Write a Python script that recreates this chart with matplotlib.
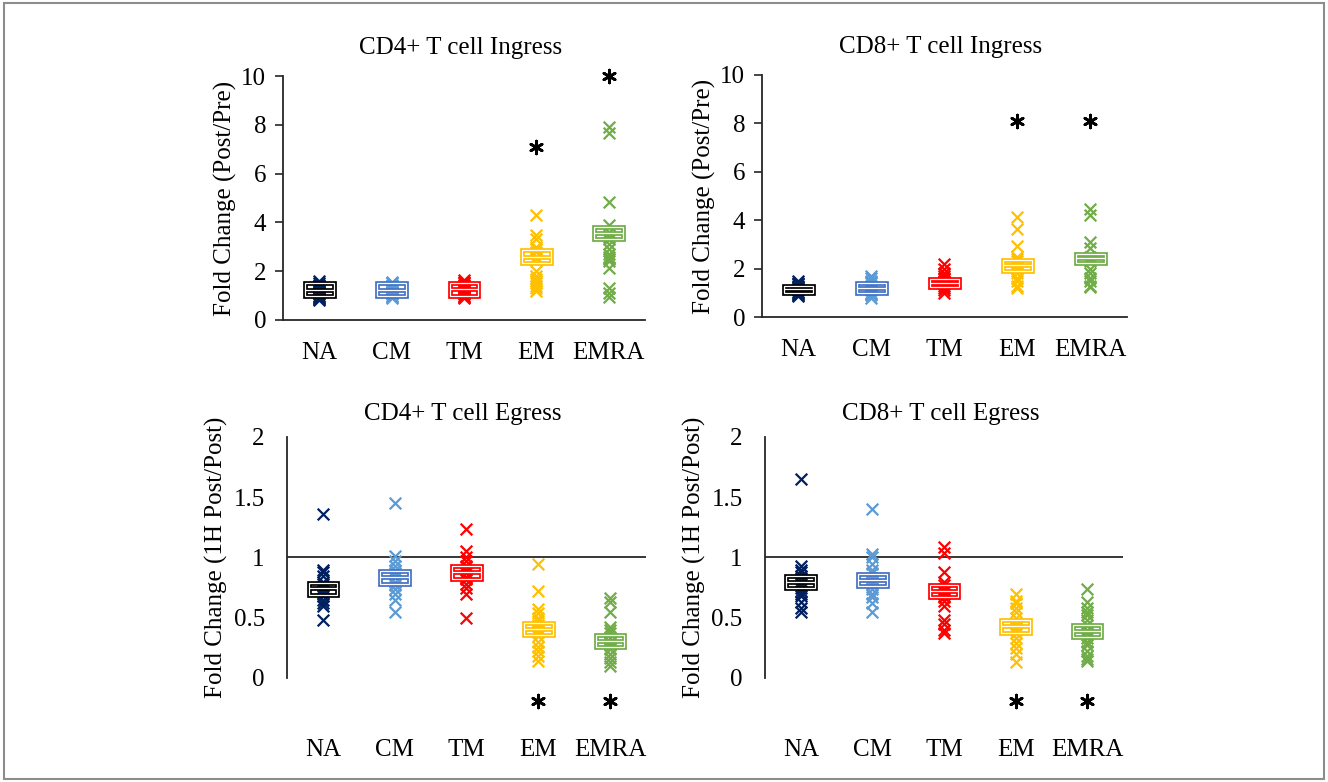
import matplotlib
matplotlib.use("Agg")
import matplotlib.pyplot as plt
from matplotlib.patches import Rectangle

plt.rcParams['font.family'] = ['Liberation Serif', 'DejaVu Serif']

groups = ['NA', 'CM', 'TM', 'EM', 'EMRA']
marker_colors = ['#002060', '#5B9BD5', '#FF0000', '#FFC000', '#70AD47']
box_colors = ['#000000', '#4472C4', '#FF0000', '#FFC000', '#70AD47']

# CD4+ ingress
cd4_in_pts = [
    [1.6, 1.5, 1.45, 1.4, 1.35, 1.3, 1.25, 1.2, 1.15, 1.1, 1.05, 1.0, 0.95, 0.9, 0.85, 0.8],
    [1.55, 1.5, 1.45, 1.4, 1.35, 1.3, 1.25, 1.2, 1.15, 1.1, 1.05, 1.0, 0.95, 0.9],
    [1.65, 1.55, 1.5, 1.45, 1.4, 1.35, 1.3, 1.25, 1.2, 1.15, 1.1, 1.05, 1.0, 0.95, 0.9],
    [4.3, 3.5, 3.3, 3.0, 2.9, 2.8, 2.6, 2.5, 2.0, 1.8, 1.7, 1.6, 1.5, 1.4, 1.3, 1.2],
    [7.9, 7.65, 4.85, 3.9, 3.6, 3.4, 3.3, 3.1, 2.9, 2.7, 2.6, 2.5, 2.4, 2.15, 1.3, 1.1, 0.95],
]
cd4_in_box = [(1.0, 1.23, 1.5), (1.0, 1.22, 1.5), (1.0, 1.25, 1.5), (2.34, 2.6, 2.87), (3.3, 3.55, 3.8)]
cd4_in_star = [None, None, None, 7.1, 10.0]

# CD8+ ingress
cd8_in_pts = [
    [1.5, 1.4, 1.35, 1.3, 1.25, 1.2, 1.15, 1.1, 1.05, 1.0, 0.95, 0.9, 0.85],
    [1.7, 1.6, 1.5, 1.45, 1.4, 1.3, 1.25, 1.2, 1.15, 1.1, 1.0, 0.95, 0.9, 0.8],
    [2.2, 2.0, 1.8, 1.7, 1.6, 1.5, 1.45, 1.4, 1.35, 1.3, 1.2, 1.1, 1.0],
    [4.15, 3.65, 2.95, 2.5, 2.4, 2.3, 2.15, 2.0, 1.8, 1.6, 1.5, 1.3, 1.2],
    [4.45, 4.2, 3.1, 2.85, 2.5, 2.3, 2.0, 1.8, 1.6, 1.5, 1.3, 1.25],
]
cd8_in_box = [(1.0, 1.14, 1.28), (1.0, 1.2, 1.4), (1.22, 1.4, 1.58), (1.9, 2.13, 2.36), (2.25, 2.43, 2.6)]
cd8_in_star = [None, None, None, 8.1, 8.1]

# CD4+ egress
cd4_eg_pts = [
    [1.36, 0.9, 0.88, 0.85, 0.8, 0.78, 0.75, 0.72, 0.7, 0.68, 0.65, 0.62, 0.6, 0.48],
    [1.45, 1.01, 0.97, 0.93, 0.9, 0.87, 0.84, 0.8, 0.77, 0.74, 0.7, 0.65, 0.55],
    [1.24, 1.05, 1.0, 0.97, 0.93, 0.9, 0.87, 0.84, 0.82, 0.78, 0.75, 0.7, 0.5],
    [0.95, 0.72, 0.57, 0.54, 0.5, 0.47, 0.44, 0.41, 0.38, 0.35, 0.3, 0.26, 0.22, 0.18, 0.14],
    [0.66, 0.63, 0.55, 0.42, 0.4, 0.37, 0.33, 0.3, 0.27, 0.24, 0.2, 0.17, 0.13, 0.1],
]
cd4_eg_box = [(0.69, 0.745, 0.79), (0.78, 0.835, 0.89), (0.82, 0.88, 0.93), (0.36, 0.41, 0.46), (0.26, 0.31, 0.36)]
cd4_eg_star = [None, None, None, -0.19, -0.19]

# CD8+ egress
cd8_eg_pts = [
    [1.65, 0.93, 0.9, 0.88, 0.85, 0.83, 0.8, 0.78, 0.75, 0.72, 0.7, 0.68, 0.63, 0.58, 0.55],
    [1.4, 1.03, 1.0, 0.95, 0.9, 0.87, 0.83, 0.8, 0.77, 0.74, 0.7, 0.67, 0.62, 0.55],
    [1.09, 1.04, 0.88, 0.8, 0.77, 0.74, 0.72, 0.7, 0.67, 0.64, 0.6, 0.48, 0.45, 0.4, 0.37],
    [0.7, 0.64, 0.62, 0.58, 0.55, 0.5, 0.45, 0.42, 0.4, 0.37, 0.33, 0.29, 0.25, 0.2, 0.13],
    [0.74, 0.63, 0.58, 0.55, 0.52, 0.48, 0.44, 0.4, 0.37, 0.33, 0.3, 0.27, 0.22, 0.18, 0.16, 0.14],
]
cd8_eg_box = [(0.75, 0.8, 0.85), (0.76, 0.81, 0.86), (0.675, 0.72, 0.77), (0.376, 0.43, 0.48), (0.343, 0.39, 0.44)]
cd8_eg_star = [None, None, None, -0.19, -0.19]

fig = plt.figure(figsize=(13.28, 7.82), dpi=100)
fig.patches.append(Rectangle((0.003, 0.004), 0.994, 0.992, transform=fig.transFigure,
                             fill=False, edgecolor='#8c8c8c', linewidth=1.5))


def draw_panel(rect, title, ylabel, pts, boxes, stars, ymax, yticks, egress):
    ax = fig.add_axes(rect)
    for i in range(len(groups)):
        ax.scatter([i] * len(pts[i]), pts[i], marker='x', s=70, linewidths=1.6,
                   color=marker_colors[i], zorder=2)
        lo, mid, hi = boxes[i]
        for lw, c in ((3.4, box_colors[i]), (0.9, 'white')):
            ax.add_patch(Rectangle((i - 0.2, lo), 0.4, hi - lo, fill=False,
                                   edgecolor=c, linewidth=lw, zorder=3))
            ax.plot([i - 0.2, i + 0.2], [mid, mid], color=c, linewidth=lw, zorder=3,
                    solid_capstyle='butt')
        if stars[i] is not None:
            ax.scatter([i], [stars[i]], marker=(6, 2, 0), s=85, linewidths=2.0,
                       color='black', zorder=4, clip_on=False)
    ax.set_xlim(-0.5, 4.5)
    ax.set_ylim(0, ymax)
    ax.set_yticks(yticks)
    ax.set_yticklabels([('%g' % t) for t in yticks], fontsize=18)
    ax.set_xticks(range(len(groups)))
    ax.set_xticklabels(groups, fontsize=18)
    ax.spines['top'].set_visible(False)
    ax.spines['right'].set_visible(False)
    for side in ('left', 'bottom'):
        ax.spines[side].set_color('#262626')
        ax.spines[side].set_linewidth(1.3)
    if egress:
        ax.spines['bottom'].set_visible(False)
        ax.axhline(1, color='#262626', linewidth=1.3, zorder=1)
        ax.tick_params(axis='y', length=0, pad=16)
        ax.tick_params(axis='x', length=0, pad=44)
        ax.set_title(title, fontsize=18, x=0.49, pad=12)
        ax.set_ylabel(ylabel, fontsize=18, labelpad=4)
    else:
        ax.tick_params(axis='y', length=6, width=1.2, color='#262626', pad=6)
        ax.tick_params(axis='x', length=0, pad=16)
        ax.set_title(title, fontsize=18, x=0.49, pad=16)
        ax.set_ylabel(ylabel, fontsize=18, labelpad=3)
    return ax


draw_panel([0.2131, 0.5908, 0.2726, 0.312], 'CD4+ T cell Ingress',
           'Fold Change (Post/Pre)', cd4_in_pts, cd4_in_box, cd4_in_star,
           10, [0, 2, 4, 6, 8, 10], False)
draw_panel([0.5738, 0.5946, 0.2748, 0.3095], 'CD8+ T cell Ingress',
           'Fold Change (Post/Pre)', cd8_in_pts, cd8_in_box, cd8_in_star,
           10, [0, 2, 4, 6, 8, 10], False)
draw_panel([0.2161, 0.133, 0.2703, 0.3082], 'CD4+ T cell Egress',
           'Fold Change (1H Post/Post)', cd4_eg_pts, cd4_eg_box, cd4_eg_star,
           2, [0, 0.5, 1, 1.5, 2], True)
draw_panel([0.576, 0.133, 0.2696, 0.3082], 'CD8+ T cell Egress',
           'Fold Change (1H Post/Post)', cd8_eg_pts, cd8_eg_box, cd8_eg_star,
           2, [0, 0.5, 1, 1.5, 2], True)

fig.savefig('out.png', dpi=100, facecolor='white')
